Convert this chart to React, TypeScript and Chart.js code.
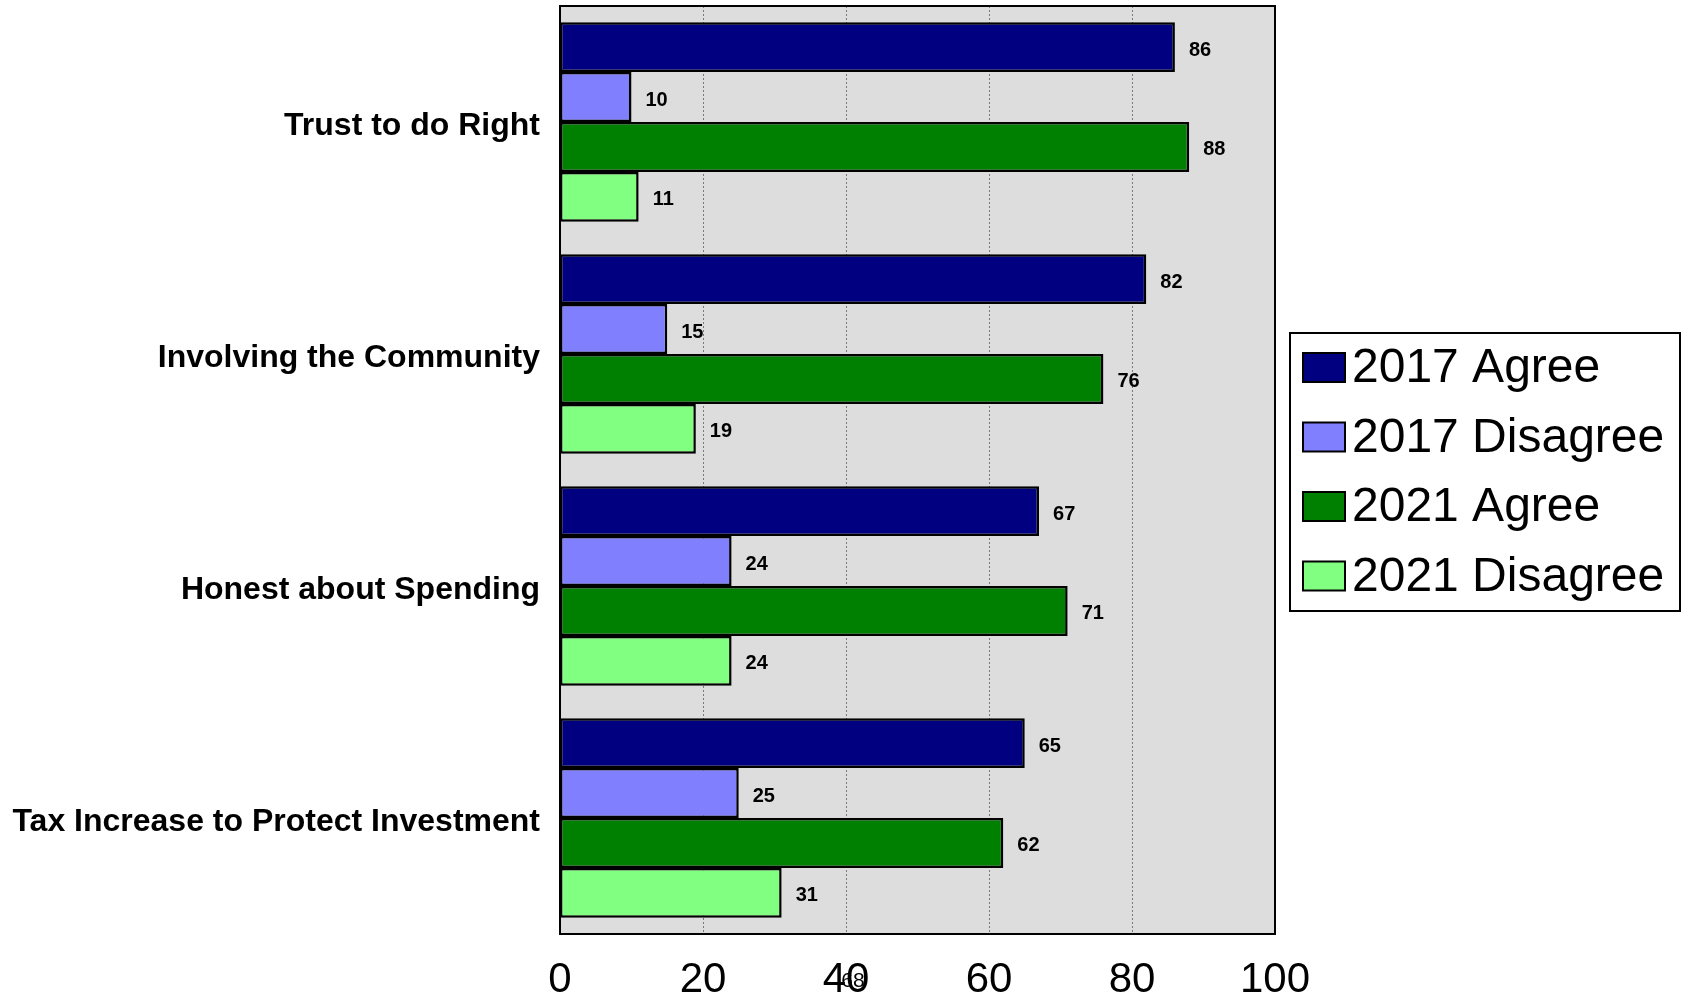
import React, { useEffect, useRef } from "react";
import { Chart, registerables } from "chart.js";

Chart.register(...registerables);

const categories = [
  "Trust to do Right",
  "Involving the Community",
  "Honest about Spending",
  "Tax Increase to Protect Investment",
];
const seriesNames = ["2017 Agree", "2017 Disagree", "2021 Agree", "2021 Disagree"];
const agree2017 = [86, 82, 67, 65];
const disagree2017 = [10, 15, 24, 25];
const agree2021 = [88, 76, 71, 62];
const disagree2021 = [11, 19, 24, 31];
const seriesColors = ["#000080", "#8080FF", "#008000", "#80FF80"];
const xTicks = [0, 20, 40, 60, 80, 100];
const strayText = "68";

const FONT = "'Liberation Sans', Arial, sans-serif";

const plotDecor = {
  id: "plotDecor",
  beforeDatasetsDraw(chart: any) {
    const { ctx, chartArea: a } = chart;
    ctx.save();
    ctx.fillStyle = "#DDDDDD";
    ctx.fillRect(a.left, a.top, a.right - a.left, a.bottom - a.top);
    const xs = chart.scales.x;
    ctx.strokeStyle = "#7a7a7a";
    ctx.lineWidth = 1;
    ctx.setLineDash([2, 2]);
    xTicks.forEach((t) => {
      if (t === 0 || t === 100) return;
      const x = Math.round(xs.getPixelForValue(t)) + 0.5;
      ctx.beginPath();
      ctx.moveTo(x, a.top);
      ctx.lineTo(x, a.bottom);
      ctx.stroke();
    });
    ctx.restore();
  },
  afterDatasetsDraw(chart: any) {
    const { ctx, chartArea: a } = chart;
    ctx.save();
    // category labels
    const ys = chart.scales.y;
    ctx.font = `bold 32px ${FONT}`;
    ctx.fillStyle = "#000";
    ctx.textAlign = "right";
    ctx.textBaseline = "middle";
    categories.forEach((c, i) => {
      ctx.fillText(c, a.left - 20, ys.getPixelForValue(i) + 4);
    });
    // value labels
    ctx.font = `bold 20px ${FONT}`;
    ctx.textAlign = "left";
    chart.data.datasets.forEach((ds: any, i: number) => {
      const meta = chart.getDatasetMeta(i);
      meta.data.forEach((bar: any, j: number) => {
        ctx.fillText(String(ds.data[j]), bar.x + 14, bar.y + 3);
      });
    });
    ctx.strokeStyle = "#000";
    ctx.lineWidth = 2;
    ctx.setLineDash([]);
    ctx.strokeRect(a.left, a.top, a.right - a.left, a.bottom - a.top);

    const lx = 1290, ly = 333, lw = 390, lh = 278;
    ctx.lineWidth = 2;
    ctx.strokeRect(lx, ly, lw, lh);
    ctx.font = `48px ${FONT}`;
    ctx.textBaseline = "middle";
    seriesNames.forEach((name, i) => {
      const cy = 367 + i * 69.5;
      ctx.fillStyle = seriesColors[i];
      ctx.fillRect(1303, cy - 14, 42, 29);
      ctx.strokeStyle = "#000";
      ctx.lineWidth = 2;
      ctx.strokeRect(1303, cy - 14, 42, 29);
      ctx.fillStyle = "#000";
      ctx.fillText(name, 1352, cy + 2);
    });

    ctx.font = `21px ${FONT}`;
    ctx.textAlign = "center";
    ctx.fillText(strayText, 853, 981);
    ctx.restore();
  },
};

export default function App() {
  const ref = useRef<HTMLCanvasElement | null>(null);
  useEffect(() => {
    if (!ref.current) return;
    const datasets = [agree2017, disagree2017, agree2021, disagree2021].map((d, i) => ({
      label: seriesNames[i],
      data: d,
      backgroundColor: seriesColors[i],
      borderColor: "#000",
      borderWidth: 2.5,
      borderSkipped: false,
      categoryPercentage: 0.86,
      barPercentage: 1.0,
    }));
    const chart = new Chart(ref.current, {
      type: "bar",
      data: { labels: categories, datasets },
      options: {
        indexAxis: "y",
        animation: false,
        responsive: false,
        maintainAspectRatio: false,
        layout: { padding: { left: 0, right: 409, top: 6, bottom: 0 } },
        plugins: { legend: { display: false }, tooltip: { enabled: false } },
        scales: {
          x: {
            min: 0,
            max: 100,
            afterBuildTicks: (s: any) => {
              s.ticks = xTicks.map((v) => ({ value: v }));
            },
            grid: { display: false, drawTicks: false },
            border: { display: false },
            ticks: {
              color: "#000",
              font: { family: FONT, size: 42 },
              padding: 21,
              maxRotation: 0,
            },
            afterFit: (s: any) => {
              s.height = 62;
              s.paddingLeft = 0;
              s.paddingRight = 0;
            },
          },
          y: {
            grid: { display: false, drawTicks: false },
            border: { display: false },
            ticks: { display: false },
            afterFit: (s: any) => {
              s.width = 560;
              s.paddingTop = 0;
              s.paddingBottom = 0;
            },
          },
        },
      },
      plugins: [plotDecor],
    });
    return () => chart.destroy();
  }, []);
  return (
    <div style={{ position: "absolute", left: 0, top: 0, width: 1684, height: 996, background: "#fff" }}>
      <canvas ref={ref} width={1684} height={996} style={{ width: 1684, height: 996, display: "block" }} />
    </div>
  );
}
